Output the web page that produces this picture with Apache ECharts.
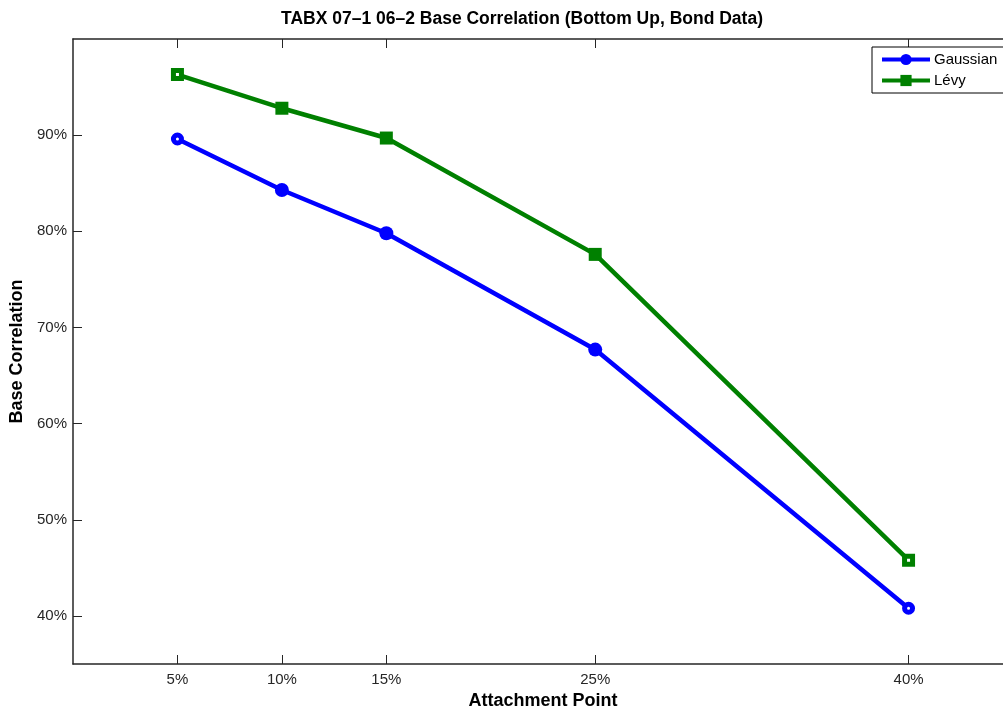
<!DOCTYPE html>
<html>
<head>
<meta charset="utf-8">
<title>Base Correlation</title>
<script src="https://cdn.jsdelivr.net/npm/echarts@6.0.0/dist/echarts.min.js"></script>
<style>
  html, body { margin: 0; padding: 0; background: #fff; }
  #chart { width: 1003px; height: 706px; }
</style>
</head>
<body>
<div id="chart"></div>
<script>
// attachment points (%) and base correlations (%)
const attachPoints = [5, 10, 15, 25, 40];
const gaussian = [89.6, 84.3, 79.8, 67.7, 40.8];
const levy = [96.3, 92.8, 89.7, 77.6, 45.8];
const xTicks = [5, 10, 15, 25, 40];
const yTicks = [40, 50, 60, 70, 80, 90];

const FONT = '"Liberation Sans", Arial, Helvetica, sans-serif';
const AXIS_COLOR = '#262626';

const chart = echarts.init(document.getElementById('chart'));

// end markers look hollow in the original, middle ones are filled
function toPoints(values, color) {
  return values.map((v, i) => {
    const p = { value: [attachPoints[i], v] };
    if (i === 0 || i === values.length - 1) {
      p.symbolSize = 8;
      p.itemStyle = { color: '#fff', borderColor: color, borderWidth: 5 };
    }
    return p;
  });
}

const tickStyle = {
  show: true,
  inside: true,
  length: 9,
  lineStyle: { color: AXIS_COLOR, width: 1 }
};

chart.setOption({
  animation: false,
  backgroundColor: '#fff',
  title: {
    text: 'TABX 07\u20131 06\u20132 Base Correlation (Bottom Up, Bond Data)',
    left: 281,
    top: 10,
    padding: 0,
    textStyle: { fontFamily: FONT, fontSize: 17.5, fontWeight: 'bold', color: '#000' }
  },
  legend: {
    orient: 'vertical',
    left: 872,
    top: 47,
    padding: [5, 8, 5, 8],
    itemGap: 6,
    itemWidth: 48,
    itemHeight: 14,
    backgroundColor: '#fff',
    borderColor: '#000',
    borderWidth: 1,
    lineStyle: { width: 4 },
    textStyle: { fontFamily: FONT, fontSize: 15, color: '#000', padding: [0, 0, 0, -1] },
    data: ['Gaussian', 'L\u00e9vy']
  },
  grid: { left: 73, top: 39, width: 940, height: 625, outerBoundsMode: 'none', containLabel: false },
  xAxis: [{
    type: 'value',
    min: 0,
    max: 45,
    name: 'Attachment Point',
    nameLocation: 'middle',
    nameGap: 22,
    nameTextStyle: { fontFamily: FONT, fontSize: 18, fontWeight: 'bold', color: '#000' },
    axisLine: { show: true, lineStyle: { color: AXIS_COLOR, width: 1.5 } },
    axisTick: Object.assign({ customValues: xTicks }, tickStyle),
    axisLabel: {
      customValues: xTicks,
      formatter: v => v + '%',
      margin: 8,
      fontFamily: FONT,
      fontSize: 15,
      color: '#262626'
    },
    splitLine: { show: false }
  }, {
    type: 'value',
    position: 'top',
    min: 0,
    max: 45,
    axisLine: { show: true, onZero: false, lineStyle: { color: AXIS_COLOR, width: 1.5 } },
    axisTick: Object.assign({ customValues: xTicks }, tickStyle),
    axisLabel: { show: false },
    splitLine: { show: false }
  }],
  yAxis: {
    type: 'value',
    min: 35,
    max: 100,
    name: 'Base Correlation',
    nameLocation: 'middle',
    nameGap: 43,
    nameTextStyle: { fontFamily: FONT, fontSize: 18, fontWeight: 'bold', color: '#000' },
    axisLine: { show: true, lineStyle: { color: AXIS_COLOR, width: 1.5 } },
    axisTick: Object.assign({ customValues: yTicks }, tickStyle),
    axisLabel: {
      customValues: yTicks,
      formatter: v => v + '%',
      margin: 6,
      fontFamily: FONT,
      fontSize: 15,
      color: '#262626'
    },
    splitLine: { show: false }
  },
  series: [{
    name: 'Gaussian',
    type: 'line',
    data: toPoints(gaussian, '#0000ff'),
    symbol: 'circle',
    symbolSize: 14,
    lineStyle: { color: '#0000ff', width: 4.5 },
    itemStyle: { color: '#0000ff' },
    z: 3
  }, {
    name: 'L\u00e9vy',
    type: 'line',
    data: toPoints(levy, '#008000'),
    symbol: 'rect',
    symbolSize: 13,
    lineStyle: { color: '#008000', width: 4.5 },
    itemStyle: { color: '#008000' },
    z: 3
  }]
});
</script>
</body>
</html>
